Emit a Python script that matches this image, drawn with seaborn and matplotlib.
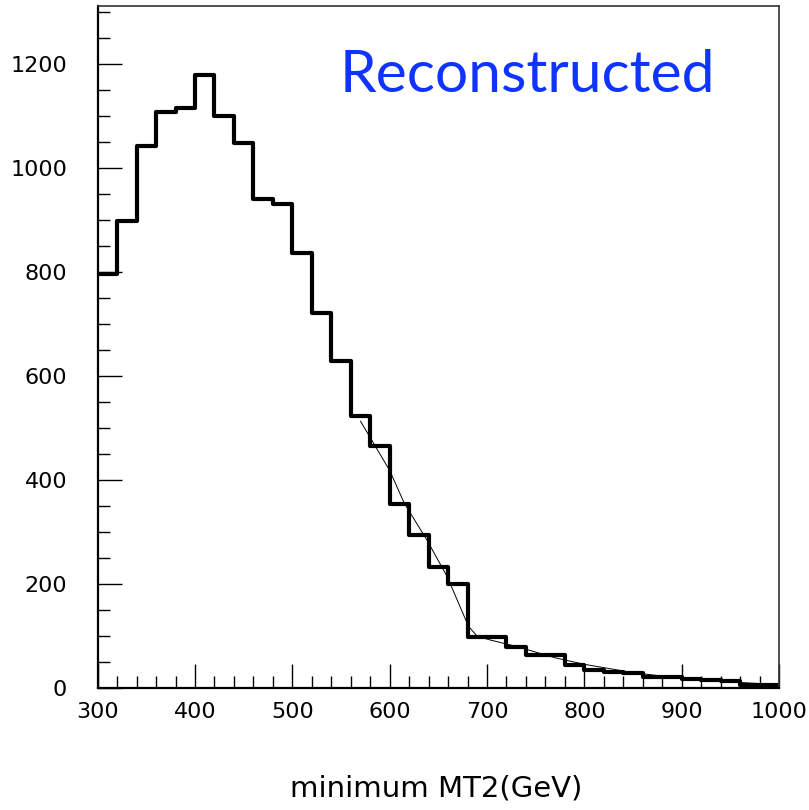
import numpy as np
import pandas as pd
import matplotlib
matplotlib.use("Agg")
import matplotlib.pyplot as plt
import seaborn as sns
from matplotlib.ticker import MultipleLocator

# ---- data ----
bin_edges = [300 + 20 * i for i in range(36)]
counts = [797, 898, 1043, 1108, 1116, 1180, 1100, 1048, 940, 930,
          836, 722, 629, 523, 466, 353, 293, 233, 199, 97,
          97, 78, 63, 63, 44, 35, 31, 29, 20, 20,
          17, 15, 12, 6, 5]
fit_x = [570, 600, 615, 638, 659, 681, 690, 703, 731, 769, 800, 850, 900, 950, 1000]
fit_y = [513, 418, 355, 285, 214, 118, 99, 92, 79, 58, 45, 29, 18, 11, 6]
x_label = "minimum MT2(GeV)"
title_text = "Reconstructed"

centers = [(bin_edges[i] + bin_edges[i + 1]) / 2 for i in range(len(counts))]
df = pd.DataFrame({"mt2": centers, "n": counts})
fit_df = pd.DataFrame({"x": fit_x, "y": fit_y})

sns.set_theme(style="white")
plt.rcParams['font.family'] = ['DejaVu Sans']

W, H = 809, 810
fig = plt.figure(figsize=(W / 100, H / 100), dpi=100)
ax = fig.add_axes([97.7 / W, 1 - 687.7 / H, (779 - 97.7) / W, (687.7 - 6) / H])

sns.histplot(data=df, x="mt2", weights="n", bins=bin_edges, element="step",
             fill=False, color="black", linewidth=3.0, ax=ax)
sns.lineplot(data=fit_df, x="x", y="y", color="black", linewidth=0.7, ax=ax)

ax.set_xlim(300, 1000)
ax.set_ylim(0, 1312)
ax.xaxis.set_major_locator(MultipleLocator(100))
ax.xaxis.set_minor_locator(MultipleLocator(20))
ax.yaxis.set_major_locator(MultipleLocator(200))
ax.yaxis.set_minor_locator(MultipleLocator(50))
ax.tick_params(which="both", direction="in", bottom=True, left=True, top=False, right=False,
               colors="black", width=1.0)
ax.tick_params(which="major", length=17)
ax.tick_params(which="minor", length=8.5)
ax.tick_params(axis="x", which="major", pad=10, labelsize=16)
ax.tick_params(axis="y", which="major", pad=22, labelsize=16)
for s in ["left", "bottom"]:
    ax.spines[s].set_linewidth(1.6)
    ax.spines[s].set_color("black")
for s in ["top", "right"]:
    ax.spines[s].set_linewidth(1.2)
    ax.spines[s].set_color("#333333")
ax.set_xlabel("")
ax.set_ylabel("")

fig.text(0.5 * (285 + 588) / W, 1 - 797 / H, x_label, ha="center", va="baseline",
         fontsize=21, color="black")
fig.text(340 / W, 1 - 91.7 / H, title_text, ha="left", va="baseline",
         fontsize=42.3, color="#1034FF", family=["Lato", "DejaVu Sans"])

fig.savefig("out.png", dpi=100)
